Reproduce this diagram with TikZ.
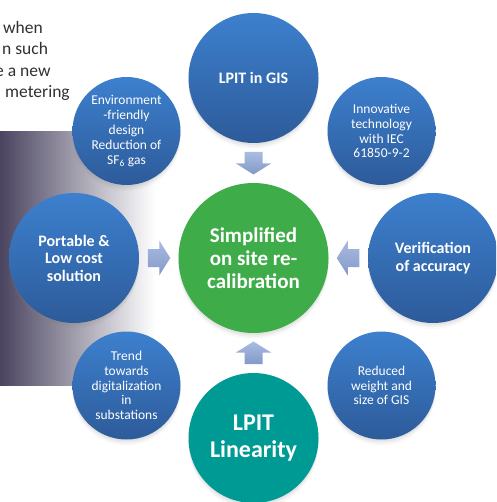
\documentclass[tikz,border=0pt]{standalone}
\usepackage{fontspec}
\setmainfont{Carlito}
\usetikzlibrary{shadows,calc}

\definecolor{blueTop}{HTML}{3D80CE}
\definecolor{blueBot}{HTML}{2D5B9A}
\definecolor{greenC}{HTML}{3EAC48}
\definecolor{tealC}{HTML}{009A94}
\definecolor{arrLight}{HTML}{AABCE1}
\definecolor{arrDark}{HTML}{8299C7}
\definecolor{bgDark}{HTML}{4A4460}
\definecolor{txtGray}{HTML}{303030}

% block arrow pointing along +x, centred on the current origin
\newcommand{\blockarrowpath}{(-11,-9) -- (0.5,-9) -- (0.5,-17.5) -- (11.5,0) -- (0.5,17.5) -- (0.5,9) -- (-11,9) -- cycle}

\begin{document}
\begin{tikzpicture}[x=1pt,y=-1pt,
  softshadow/.style={
    drop shadow={shadow xshift=0pt,shadow yshift=-2pt,opacity=.10},
    drop shadow={shadow xshift=0pt,shadow yshift=-4pt,opacity=.08},
    drop shadow={shadow xshift=0pt,shadow yshift=-6pt,opacity=.05}},
  bubble/.style={circle,inner sep=0pt,align=center,text=white,softshadow},
  bluefill/.style={top color=blueTop,bottom color=blueBot},
  bigbubble/.style={bubble,bluefill,minimum size=130pt,
    font=\bfseries\fontsize{16}{17.5}\selectfont},
  smallbubble/.style={bubble,bluefill,minimum size=108pt,
    font=\fontsize{13.5}{14.8}\selectfont},
  hubbubble/.style={bubble,fill=greenC,minimum size=150pt,
    font=\bfseries\fontsize{21}{23.3}\selectfont},
  basebubble/.style={bubble,fill=tealC,minimum size=130pt,
    font=\bfseries\fontsize{24}{27}\selectfont},
  arrowfill/.style={top color=arrLight,bottom color=arrDark,draw=none},
  bodytext/.style={anchor=base west,text=txtGray,font=\fontsize{17.5}{21}\selectfont,inner sep=0pt}
]
\useasboundingbox (0,0) rectangle (496,502);
\clip (0,0) rectangle (496,502);

% shaded panel behind the left column
\shade[left color=bgDark,right color=white] (0,132) rectangle (155,385);

% body text running in from the left
\node[bodytext] (l1) at (3,34) {when};
\node[bodytext] (l2) at (2,55) {n such};
\node[bodytext] (l3) at (-5,77) {e a new};
\node[bodytext] (l4) at (5,98) {metering};

% hub and surrounding topics
\node[hubbubble] (hub) at (253.5,258) {Simplified\\on site re-\\calibration};
\node[bigbubble] (top) at (253.5,78) {LPIT in GIS};
\node[basebubble] (bot) at (253.5,438) {LPIT\\Linearity};
\node[bigbubble] (lft) at (74,258) {Portable \&\\Low cost\\solution};
\node[bigbubble] (rgt) at (433,258) {Verification\\of accuracy};
\node[smallbubble] (tl) at (126.5,131) {Environment\\-friendly\\design\\Reduction of\\SF\textsubscript{6} gas};
\node[smallbubble] (tr) at (381.5,131) {Innovative\\technology\\with IEC\\61850-9-2};
\node[smallbubble] (bl) at (126.5,385.5) {Trend\\towards\\digitalization\\in\\substations};
\node[smallbubble] (br) at (381.5,385.5) {Reduced\\weight and\\size of GIS};

% block arrows pointing into the hub, placed midway in each gap
\coordinate (atop) at ($(top.south)!.5!(hub.north)$);
\coordinate (abot) at ($(bot.north)!.5!(hub.south)$);
\coordinate (alft) at ($(lft.east)!.5!(hub.west)$);
\coordinate (argt) at ($(rgt.west)!.5!(hub.east)$);
\shade[arrowfill,shift={(atop)},rotate=-90] \blockarrowpath;
\shade[arrowfill,shift={(abot)},rotate=90] \blockarrowpath;
\shade[arrowfill,shift={(alft)}] \blockarrowpath;
\shade[arrowfill,shift={(argt)},rotate=180] \blockarrowpath;
\end{tikzpicture}
\end{document}
